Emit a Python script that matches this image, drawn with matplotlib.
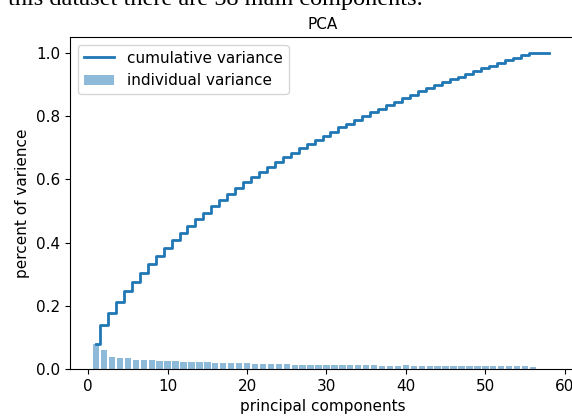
import matplotlib
matplotlib.use('Agg')
import matplotlib.pyplot as plt
import numpy as np

plt.rcParams['font.size'] = 11

# доли объяснённой дисперсии по компонентам
var_exp = [0.079, 0.060, 0.039, 0.035, 0.034, 0.029, 0.028, 0.028, 0.026, 0.025,
           0.025, 0.023, 0.022, 0.021, 0.021, 0.020, 0.020, 0.019, 0.019, 0.018,
           0.017, 0.016, 0.016, 0.015, 0.015, 0.014, 0.014, 0.014, 0.013, 0.013,
           0.013, 0.013, 0.012, 0.012, 0.012, 0.012, 0.011, 0.011, 0.011, 0.012,
           0.010, 0.011, 0.010, 0.010, 0.009, 0.009, 0.009, 0.009, 0.009, 0.009,
           0.008, 0.008, 0.008, 0.008, 0.008, 0.0075, 0.0005, 0.0002]
components = np.arange(1, len(var_exp) + 1)
cum_var_exp = np.cumsum(var_exp)

fig = plt.figure(figsize=(5.72, 4.17), dpi=100)
# оси выходят за правый край, как на обрезанном скриншоте
ax = fig.add_axes([70 / 572, 48 / 417, 505 / 572, 332 / 417])

ax.bar(components, var_exp, alpha=0.5, align='center', label='individual variance')
ax.step(components, cum_var_exp, where='mid', linewidth=2, label='cumulative variance')
ax.set_ylabel('percent of varience')
ax.set_xlabel('principal components')
ax.set_title('PCA', fontsize=11)
ax.legend(loc='best')

# обрезанная строка текста над графиком
fig.text(8 / 572, 1 - 5 / 417, 'this dataset there are 58 main components.',
         family='Liberation Serif', fontsize=17.5, va='baseline', ha='left')

fig.savefig('out.png', dpi=100)
